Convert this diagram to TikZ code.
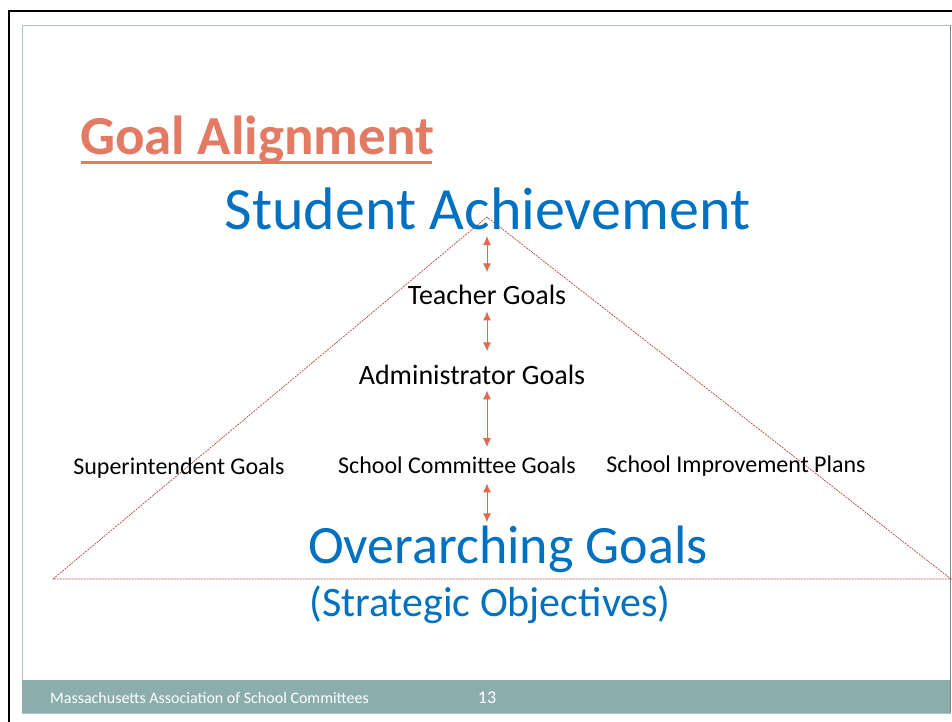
\documentclass[tikz,border=0pt]{standalone}
\usepackage{fontspec}
\setmainfont{Carlito}
\usetikzlibrary{arrows.meta}
\definecolor{titlered}{RGB}{226,122,100}
\definecolor{goalblue}{RGB}{0,112,192}
\definecolor{linkred}{RGB}{224,106,78}
\definecolor{edgered}{RGB}{180,75,60}
\definecolor{framegrey}{RGB}{176,196,196}
\definecolor{footteal}{RGB}{139,174,173}
\tikzset{
  big/.style={text=goalblue,anchor=base,inner sep=0pt},
  goal/.style={text=black,font=\fontsize{28}{32}\selectfont,anchor=base,inner sep=0pt},
  link/.style={linkred,line width=1pt,{Latex[length=9pt,width=8pt]}-{Latex[length=9pt,width=8pt]}},
  edge/.style={edgered,line width=0.7pt,dash pattern=on 2pt off 1pt}
}
\begin{document}
\begin{tikzpicture}[x=1pt,y=-1pt]
\useasboundingbox (0,0) rectangle (952,721);
\clip (0,0) rectangle (952,721);
% slide frame
\draw [line width=2pt] (9,11) rectangle (970,740);
\draw [framegrey,line width=1pt] (22.5,25) rectangle (950,713);
\fill [footteal] (22,680) rectangle (950,713);
\draw [footteal!80!black,line width=1pt] (950,25) -- (950,713);
\node [anchor=base west,inner sep=0pt,text=white,font=\fontsize{16}{19}\selectfont] (assoc) at (50,703) {Massachusetts Association of School Committees};
\node [anchor=base,inner sep=0pt,text=white,font=\fontsize{18}{21}\selectfont] (page) at (487,703) {13};

% title
\node [anchor=base west,inner sep=0pt,text=titlered,font=\fontsize{55}{64}\selectfont\bfseries] (title) at (80,154) {Goal Alignment};
\draw [titlered,line width=3pt] (title.base west) ++(1,8) -- ++(351,0);

% triangle
\coordinate (apex) at (487,217);
\coordinate (left) at (53,579);
\coordinate (right) at (951,579);
\draw [edge] (left) -- (apex) -- (right) -- cycle;

% levels
\node [big,font=\fontsize{60}{70}\selectfont] (student) at (487.5,229) {Student Achievement};
\node [goal] (teacher) at (487,304) {Teacher Goals};
\node [goal] (admin) at (472,384) {Administrator Goals};
\node [goal,font=\fontsize{24}{28}\selectfont] (super) at (179,474) {Superintendent Goals};
\node [goal,font=\fontsize{24}{28}\selectfont] (committee) at (457,473) {School Committee Goals};
\node [goal,font=\fontsize{24}{28}\selectfont] (improve) at (736,472) {School Improvement Plans};
\node [big,font=\fontsize{54}{62}\selectfont] (overarch) at (508,563) {Overarching Goals};
\node [big,font=\fontsize{42}{48}\selectfont] (strategic) at (490,616) {(Strategic Objectives)};

% arrows
\coordinate (axis) at (487,0);
\draw [link] (axis |- apex) ++(0,19) -- ([yshift=12pt]axis |- teacher.north);
\draw [link] ([yshift=-7pt]axis |- teacher.south) -- ([yshift=13pt]axis |- admin.north);
\draw [link] ([yshift=-6pt]axis |- admin.south) -- ([yshift=9pt]axis |- committee.north);
\draw [link] ([yshift=-10pt]axis |- committee.south) -- ([yshift=3pt]axis |- overarch.north);
\end{tikzpicture}
\end{document}
